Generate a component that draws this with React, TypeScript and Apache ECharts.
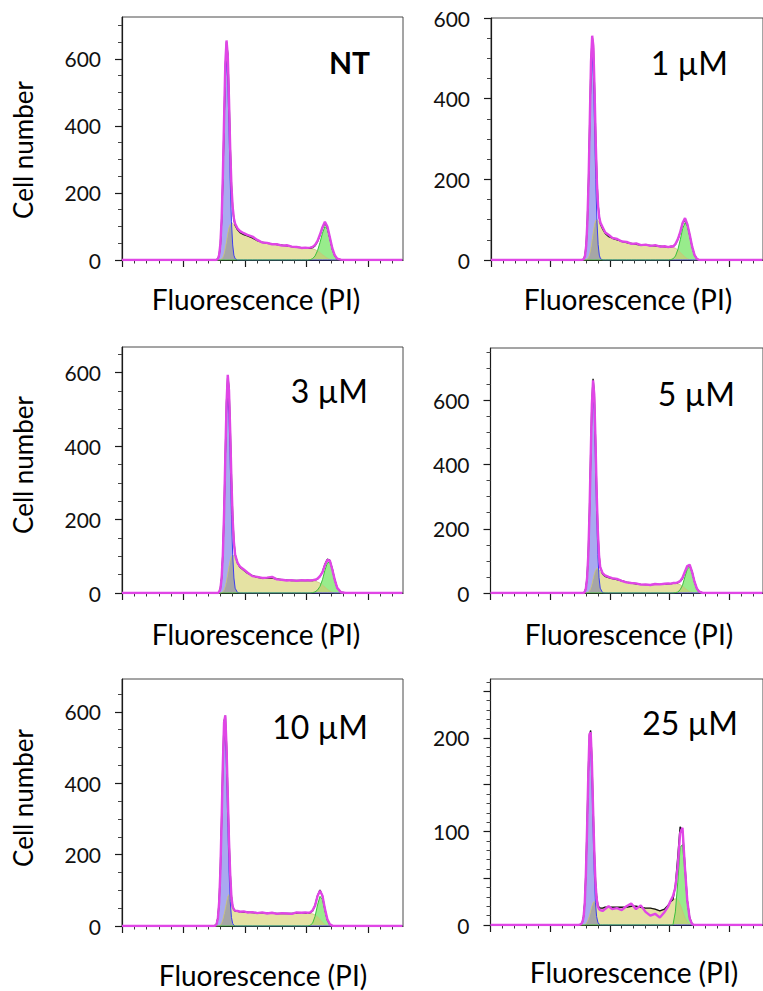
import React, { useEffect, useRef } from "react";
import * as echarts from "echarts";

// Fluorescence channel grid (x values shared by every panel)
const CH = [
  0, 70, 74, 76, 77,
  78, 79, 80, 81, 82, 83, 84, 85, 86, 87, 88, 89, 90, 91, 92,
  94, 96, 99, 102,
  106, 110, 114, 118, 122, 126, 130, 134, 138, 142, 146,
  149,
  151, 153, 155, 157, 159, 161, 163, 165, 167, 169, 171, 173, 175,
  178, 182, 190, 228,
];

// ---------- NT ----------
const NT_G1 = [
  0, 0, 0, 0, 1,
  4, 14, 45, 114, 235, 394, 537, 595, 537, 394, 235, 114, 45, 14, 4,
  0, 0, 0, 0,
  0, 0, 0, 0, 0, 0, 0, 0, 0, 0, 0,
  0,
  0, 0, 0, 0, 0, 0, 0, 0, 0, 0, 0, 0, 0,
  0, 0, 0, 0,
];
const NT_S = [
  0, 0, 0, 0, 0,
  0, 0, 1, 3, 8, 18, 35, 55, 78, 96, 106, 110, 110, 106, 100,
  90, 82, 76, 72,
  66, 58, 53, 50, 48, 46, 44, 42, 40, 38, 37,
  36,
  35, 34, 33, 31, 27, 22, 16, 10, 5, 2, 0, 0, 0,
  0, 0, 0, 0,
];
const NT_G2 = [
  0, 0, 0, 0, 0,
  0, 0, 0, 0, 0, 0, 0, 0, 0, 0, 0, 0, 0, 0, 0,
  0, 0, 0, 0,
  0, 0, 0, 0, 0, 0, 0, 0, 0, 0, 0,
  0,
  0, 1, 4, 12, 28, 52, 80, 100, 92, 64, 33, 13, 3,
  0, 0, 0, 0,
];
const NT_DATA = [
  0, 0, 0, 0, 1,
  3, 15, 48, 120, 250, 420, 585, 655, 610, 480, 330, 220, 158, 124, 108,
  94, 86, 80, 75,
  70, 60, 52, 51, 47, 47, 43, 44, 40, 39, 36,
  37,
  36, 37, 39, 45, 57, 76, 98, 114, 100, 68, 35, 14, 4,
  1, 0, 0, 0,
];

// ---------- 1 µM ----------
const U1_G1 = [
  0, 0, 0, 0, 1,
  3, 12, 38, 97, 199, 334, 456, 505, 456, 334, 199, 97, 38, 12, 3,
  0, 0, 0, 0,
  0, 0, 0, 0, 0, 0, 0, 0, 0, 0, 0,
  0,
  0, 0, 0, 0, 0, 0, 0, 0, 0, 0, 0, 0, 0,
  0, 0, 0, 0,
];
const U1_S = [
  0, 0, 0, 0, 0,
  0, 0, 1, 3, 7, 16, 30, 50, 70, 88, 98, 100, 98, 93, 86,
  76, 66, 58, 54,
  50, 46, 43, 41, 39, 37, 37, 36, 35, 34, 33,
  33,
  32, 31, 29, 25, 19, 13, 7, 3, 1, 0, 0, 0, 0,
  0, 0, 0, 0,
];
const U1_G2 = [
  0, 0, 0, 0, 0,
  0, 0, 0, 0, 0, 0, 0, 0, 0, 0, 0, 0, 0, 0, 0,
  0, 0, 0, 0,
  0, 0, 0, 0, 0, 0, 0, 0, 0, 0, 0,
  0,
  1, 3, 10, 26, 50, 78, 92, 84, 60, 32, 12, 3, 0,
  0, 0, 0, 0,
];
const U1_DATA = [
  0, 0, 0, 0, 1,
  2, 11, 36, 96, 200, 345, 490, 556, 530, 420, 290, 190, 132, 104, 92,
  80, 68, 62, 55,
  52, 46, 45, 40, 41, 37, 38, 35, 37, 33, 34,
  32,
  34, 33, 40, 52, 70, 92, 104, 88, 62, 33, 12, 3, 0,
  0, 0, 0, 0,
];

// ---------- 3 µM ----------
const U3_G1 = [
  0, 0, 0, 0, 0,
  0, 3, 13, 41, 104, 213, 357, 487, 540, 487, 357, 213, 104, 41, 13,
  1, 0, 0, 0,
  0, 0, 0, 0, 0, 0, 0, 0, 0, 0, 0,
  0,
  0, 0, 0, 0, 0, 0, 0, 0, 0, 0, 0, 0, 0,
  0, 0, 0, 0,
];
const U3_S = [
  0, 0, 0, 0, 0,
  0, 0, 0, 1, 3, 8, 18, 33, 52, 72, 90, 100, 104, 100, 92,
  80, 70, 62, 54,
  47, 43, 41, 41, 41, 38, 36, 35, 34, 34, 34,
  34,
  34, 34, 33, 32, 30, 27, 22, 16, 10, 5, 2, 0, 0,
  0, 0, 0, 0,
];
const U3_G2 = [
  0, 0, 0, 0, 0,
  0, 0, 0, 0, 0, 0, 0, 0, 0, 0, 0, 0, 0, 0, 0,
  0, 0, 0, 0,
  0, 0, 0, 0, 0, 0, 0, 0, 0, 0, 0,
  0,
  0, 0, 1, 3, 8, 18, 36, 62, 82, 84, 64, 36, 14,
  2, 0, 0, 0,
];
const U3_DATA = [
  0, 0, 0, 0, 0,
  0, 3, 12, 40, 104, 216, 370, 515, 594, 552, 440, 305, 200, 138, 104,
  82, 72, 64, 56,
  46, 44, 41, 42, 44, 37, 36, 34, 35, 33, 35,
  34,
  35, 34, 35, 36, 39, 46, 56, 76, 90, 88, 64, 36, 14,
  2, 0, 0, 0,
];

// ---------- 5 µM ----------
const U5_G1 = [
  0, 0, 0, 0, 0,
  0, 4, 15, 48, 120, 247, 414, 564, 625, 564, 414, 247, 120, 48, 15,
  1, 0, 0, 0,
  0, 0, 0, 0, 0, 0, 0, 0, 0, 0, 0,
  0,
  0, 0, 0, 0, 0, 0, 0, 0, 0, 0, 0, 0, 0,
  0, 0, 0, 0,
];
const U5_S = [
  0, 0, 0, 0, 0,
  0, 0, 0, 1, 2, 6, 14, 26, 42, 58, 70, 76, 76, 72, 66,
  58, 52, 48, 45,
  42, 38, 34, 31, 29, 27, 26, 26, 27, 27, 28,
  29,
  29, 30, 30, 29, 26, 21, 15, 9, 4, 2, 0, 0, 0,
  0, 0, 0, 0,
];
const U5_G2 = [
  0, 0, 0, 0, 0,
  0, 0, 0, 0, 0, 0, 0, 0, 0, 0, 0, 0, 0, 0, 0,
  0, 0, 0, 0,
  0, 0, 0, 0, 0, 0, 0, 0, 0, 0, 0,
  0,
  0, 0, 1, 3, 10, 24, 50, 74, 82, 65, 36, 14, 4,
  0, 0, 0, 0,
];
const U5_DATA = [
  0, 0, 0, 0, 0,
  0, 3, 14, 46, 118, 248, 420, 585, 662, 618, 480, 318, 194, 118, 80,
  62, 55, 50, 46,
  44, 38, 33, 31, 30, 26, 27, 25, 28, 27, 29,
  30,
  29, 31, 31, 33, 37, 48, 66, 84, 88, 66, 36, 14, 4,
  0, 0, 0, 0,
];

// ---------- 10 µM ----------
const U10_G1 = [
  0, 0, 0, 2, 7,
  24, 68, 157, 291, 440, 541, 541, 440, 291, 157, 68, 24, 7, 2, 0,
  0, 0, 0, 0,
  0, 0, 0, 0, 0, 0, 0, 0, 0, 0, 0,
  0,
  0, 0, 0, 0, 0, 0, 0, 0, 0, 0, 0, 0, 0,
  0, 0, 0, 0,
];
const U10_S = [
  0, 0, 0, 0, 0,
  0, 1, 3, 8, 18, 32, 48, 66, 82, 88, 80, 58, 48, 44, 42,
  41, 40, 39, 39,
  38, 37, 37, 36, 36, 35, 35, 35, 35, 36, 36,
  36,
  36, 35, 34, 31, 26, 18, 10, 4, 1, 0, 0, 0, 0,
  0, 0, 0, 0,
];
const U10_G2 = [
  0, 0, 0, 0, 0,
  0, 0, 0, 0, 0, 0, 0, 0, 0, 0, 0, 0, 0, 0, 0,
  0, 0, 0, 0,
  0, 0, 0, 0, 0, 0, 0, 0, 0, 0, 0,
  0,
  0, 2, 8, 27, 59, 83, 74, 43, 16, 4, 1, 0, 0,
  0, 0, 0, 0,
];
const U10_DATA = [
  0, 0, 0, 1, 6,
  22, 66, 155, 295, 452, 570, 590, 500, 370, 240, 145, 80, 54, 46, 43,
  42, 40, 41, 38,
  39, 36, 38, 35, 37, 34, 36, 35, 34, 38, 37,
  38,
  37, 38, 44, 57, 84, 99, 85, 48, 19, 5, 1, 0, 0,
  0, 0, 0, 0,
];

// ---------- 25 µM ----------
const U25_G1 = [
  0, 0, 0, 1, 3,
  9, 24, 56, 104, 157, 193, 193, 157, 104, 56, 24, 9, 3, 1, 0,
  0, 0, 0, 0,
  0, 0, 0, 0, 0, 0, 0, 0, 0, 0, 0,
  0,
  0, 0, 0, 0, 0, 0, 0, 0, 0, 0, 0, 0, 0,
  0, 0, 0, 0,
];
const U25_S = [
  0, 0, 0, 0, 0,
  0, 0, 1, 3, 6, 10, 15, 20, 24, 25, 24, 21, 19, 18, 18,
  18, 19, 19, 19,
  19, 19, 19, 20, 20, 19, 18, 18, 17, 15, 17,
  21,
  25, 27, 28, 27, 22, 15, 8, 3, 1, 0, 0, 0, 0,
  0, 0, 0, 0,
];
const U25_G2 = [
  0, 0, 0, 0, 0,
  0, 0, 0, 0, 0, 0, 0, 0, 0, 0, 0, 0, 0, 0, 0,
  0, 0, 0, 0,
  0, 0, 0, 0, 0, 0, 0, 0, 0, 0, 0,
  0,
  0, 0, 14, 45, 83, 86, 57, 24, 7, 1, 0, 0, 0,
  0, 0, 0, 0,
];
const U25_DATA = [
  0, 0, 0, 1, 3,
  8, 22, 55, 104, 160, 204, 206, 175, 125, 80, 46, 28, 20, 17, 16,
  15, 17, 20, 17,
  18, 16, 20, 23, 17, 21, 14, 10, 12, 8, 14,
  20,
  26, 31, 40, 63, 98, 104, 62, 26, 7, 1, 0, 0, 0,
  0, 0, 0, 0,
];

const LABELS = ["NT", "1 µM", "3 µM", "5 µM", "10 µM", "25 µM"];
const Y_MAX = [725, 600, 670, 763, 692, 263];
const Y_TICKS_MAIN = [0, 200, 400, 600];
const Y_TICKS_25 = [0, 100, 200];
const Y_TICKMARKS_25 = [0, 50, 100, 150, 200, 250];
const X_TICKS = [0, 50, 100, 150, 200];
const X_MAX = 228.5;
const X_TITLE = "Fluorescence (PI)";
const Y_TITLE = "Cell number";

const G1S = [NT_G1, U1_G1, U3_G1, U5_G1, U10_G1, U25_G1];
const SS = [NT_S, U1_S, U3_S, U5_S, U10_S, U25_S];
const G2S = [NT_G2, U1_G2, U3_G2, U5_G2, U10_G2, U25_G2];
const DATAS = [NT_DATA, U1_DATA, U3_DATA, U5_DATA, U10_DATA, U25_DATA];

// layout (pixels)
const LAYOUT = [
  { left: 122, top: 17, height: 243, lx: 370, ly: 62, tx: 256, ty: 299, yt: 150 },
  { left: 491, top: 18, height: 242, lx: 728, ly: 62.5, tx: 628, ty: 299, yt: 0 },
  { left: 122, top: 347, height: 246, lx: 368, ly: 390.5, tx: 256, ty: 634, yt: 465 },
  { left: 490.5, top: 348, height: 245, lx: 735, ly: 393, tx: 629, ty: 634, yt: 0 },
  { left: 122, top: 679, height: 247, lx: 368, ly: 726, tx: 263, ty: 975, yt: 798 },
  { left: 490.5, top: 679, height: 246, lx: 738, ly: 722.5, tx: 634, ty: 972, yt: 0 },
];

const FONT = "Lato, 'Open Sans', sans-serif";

function pairs(vals: number[]) {
  return CH.map((x, k) => [x, vals[k]]);
}

function buildOption() {
  const grid: any[] = [];
  const xAxis: any[] = [];
  const yAxis: any[] = [];
  const series: any[] = [];
  const graphic: any[] = [];

  LAYOUT.forEach((L, i) => {
    grid.push({
      left: L.left,
      top: L.top,
      width: 281,
      height: L.height,
      show: true,
      borderColor: "#4a4a4a",
      borderWidth: 1,
      backgroundColor: "rgba(0,0,0,0)",
    });
    xAxis.push({
      type: "value",
      gridIndex: i,
      min: 0,
      max: X_MAX,
      interval: 50,
      axisLine: { show: true, onZero: false, lineStyle: { color: "#1a1a1a", width: 1.2 } },
      axisTick: { show: true, length: 7, customValues: X_TICKS, lineStyle: { color: "#1a1a1a", width: 1.2 } },
      minorTick: { show: true, splitNumber: 5, length: 3.5, lineStyle: { color: "#333", width: 1 } },
      axisLabel: { show: false },
      splitLine: { show: false },
    });
    const is25 = i === 5;
    yAxis.push({
      type: "value",
      gridIndex: i,
      min: 0,
      max: Y_MAX[i],
      interval: is25 ? 50 : 200,
      axisLine: { show: true, onZero: false, lineStyle: { color: "#1a1a1a", width: 1.2 } },
      axisTick: {
        show: true,
        length: 7,
        customValues: is25 ? Y_TICKMARKS_25 : Y_TICKS_MAIN,
        lineStyle: { color: "#1a1a1a", width: 1.2 },
      },
      minorTick: { show: true, splitNumber: is25 ? 5 : 4, length: 4, lineStyle: { color: "#444", width: 1 } },
      axisLabel: {
        show: true,
        customValues: is25 ? Y_TICKS_25 : Y_TICKS_MAIN,
        margin: 21,
        fontSize: 21,
        fontFamily: FONT,
        color: "#111",
      },
      splitLine: { show: false },
    });

    const g1 = G1S[i];
    const s = SS[i];
    const g2 = G2S[i];
    const data = DATAS[i];
    const fit = CH.map((_, k) => g1[k] + s[k] + g2[k]);
    const ov1 = CH.map((_, k) => Math.min(g1[k], s[k]));
    const ov2 = CH.map((_, k) => Math.min(g2[k], s[k]));

    const base = {
      type: "line",
      xAxisIndex: i,
      yAxisIndex: i,
      showSymbol: false,
      symbol: "none",
      silent: true,
      clip: true,
    };
    series.push({ ...base, data: pairs(g1), lineStyle: { width: 0 }, areaStyle: { color: "#a9aaf0", opacity: 1 } });
    series.push({ ...base, data: pairs(s), lineStyle: { width: 0.8, color: "#c9c37a" }, areaStyle: { color: "#e5e2a3", opacity: 1 } });
    series.push({ ...base, data: pairs(g2), lineStyle: { width: 0 }, areaStyle: { color: "#98ec8c", opacity: 1 } });
    series.push({ ...base, data: pairs(ov1), lineStyle: { width: 0 }, areaStyle: { color: "#a6a6a6", opacity: 1 } });
    series.push({ ...base, data: pairs(ov2), lineStyle: { width: 0 }, areaStyle: { color: "#bcd67a", opacity: 1 } });
    series.push({ ...base, data: pairs(g1), lineStyle: { width: 1, color: "#3b3df0" } });
    series.push({ ...base, data: pairs(g2), lineStyle: { width: 1, color: "#3cbf3c" } });
    series.push({ ...base, data: pairs(fit), lineStyle: { width: 1.4, color: "#151515" } });
    series.push({ ...base, data: pairs(data), lineStyle: { width: 2.4, color: "#e046e6" } });

    graphic.push({
      type: "text",
      x: L.lx,
      y: L.ly,
      style: {
        text: LABELS[i],
        fontSize: i === 0 ? 30 : 32,
        fontWeight: i === 0 ? "bold" : "normal",
        fontFamily: FONT,
        fill: "#000",
        align: "right",
        verticalAlign: "middle",
        textAlign: "right",
        textVerticalAlign: "middle",
      },
    });
    graphic.push({
      type: "text",
      x: L.tx,
      y: L.ty,
      style: {
        text: X_TITLE,
        fontSize: 28,
        fontFamily: FONT,
        fill: "#000",
        align: "center",
        verticalAlign: "middle",
        textAlign: "center",
        textVerticalAlign: "middle",
      },
    });
    if (L.yt) {
      graphic.push({
        type: "text",
        x: 23,
        y: L.yt,
        rotation: Math.PI / 2,
        style: {
          text: Y_TITLE,
          fontSize: 26,
          fontFamily: FONT,
          fill: "#000",
          align: "center",
          verticalAlign: "middle",
          textAlign: "center",
          textVerticalAlign: "middle",
        },
      });
    }
  });

  return {
    animation: false,
    backgroundColor: "#ffffff",
    grid,
    xAxis,
    yAxis,
    series,
    graphic,
  };
}

export default function App() {
  const ref = useRef<HTMLDivElement>(null);
  useEffect(() => {
    if (!ref.current) return;
    const chart = echarts.init(ref.current, undefined, { renderer: "svg" });
    chart.setOption(buildOption() as any);
    return () => chart.dispose();
  }, []);
  return (
    <div
      ref={ref}
      style={{ position: "absolute", left: 0, top: 0, width: 763, height: 991, background: "#fff" }}
    />
  );
}
